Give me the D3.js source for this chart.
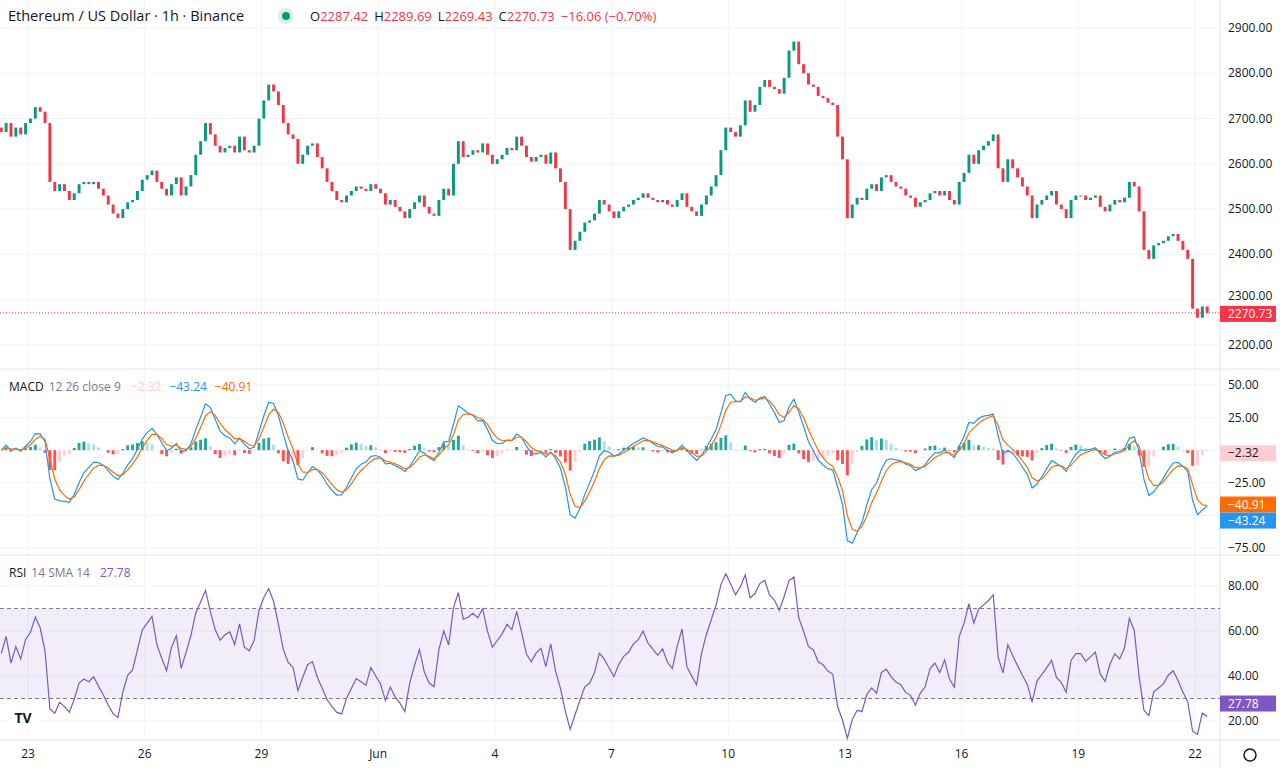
<!DOCTYPE html>
<html>
<head>
<meta charset="utf-8">
<script src="https://cdn.jsdelivr.net/npm/d3@7"></script>
<style>
  body { margin: 0; background: #fff; font-family: "Open Sans", "Noto Sans", sans-serif; }
  svg text { fill: #131722; }
</style>
</head>
<body>
<svg id="chart" width="1280" height="768"></svg>
<script>
// 3h closes, first bar starts May 22 06:00
var barHours = 3;
var firstHour = 6; // hours after May 22 00:00
var closes = [
  2670, 2690, 2660, 2680, 2665, 2690,
  2700, 2725, 2715, 2690, 2560, 2540, 2555, 2540,
  2520, 2535, 2555, 2560, 2555, 2560, 2545, 2530,
  2510, 2490, 2480, 2500, 2515, 2520, 2540, 2565,
  2575, 2585, 2560, 2545, 2530, 2555, 2570, 2530,
  2550, 2575, 2620, 2650, 2690, 2665, 2640, 2625,
  2635, 2640, 2625, 2660, 2630, 2625, 2640, 2700,
  2740, 2775, 2760, 2730, 2690, 2665, 2655, 2600,
  2620, 2640, 2645, 2615, 2590, 2560, 2540, 2520,
  2515, 2530, 2540, 2550, 2545, 2540, 2555, 2545,
  2535, 2510, 2520, 2505, 2495, 2480, 2500, 2515,
  2530, 2505, 2490, 2485, 2520, 2545, 2530, 2600,
  2650, 2615, 2620, 2630, 2625, 2645, 2620, 2600,
  2610, 2620, 2635, 2630, 2660, 2640, 2615, 2605,
  2615, 2620, 2600, 2625, 2590, 2560, 2500, 2410,
  2430, 2450, 2470, 2475, 2490, 2520, 2510, 2495,
  2480, 2495, 2505, 2510, 2520, 2525, 2535, 2525,
  2520, 2515, 2520, 2510, 2505, 2520, 2535, 2505,
  2495, 2485, 2510, 2530, 2550, 2575, 2630, 2680,
  2670, 2660, 2685, 2740, 2715, 2730, 2770, 2785,
  2770, 2765, 2755, 2790, 2850, 2870, 2820, 2800,
  2775, 2770, 2750, 2745, 2735, 2730, 2660, 2610,
  2480, 2510, 2525, 2520, 2545, 2555, 2540, 2570,
  2575, 2560, 2550, 2545, 2530, 2525, 2505, 2515,
  2520, 2535, 2540, 2530, 2540, 2520, 2510, 2560,
  2580, 2620, 2600, 2630, 2640, 2650, 2665, 2590,
  2560, 2610, 2590, 2570, 2550, 2530, 2480, 2510,
  2520, 2530, 2540, 2510, 2500, 2480, 2520, 2530,
  2530, 2520, 2525, 2530, 2505, 2495, 2510, 2520,
  2515, 2525, 2560, 2550, 2495, 2410, 2390, 2420,
  2425, 2430, 2440, 2445, 2430, 2410, 2390, 2280,
  2260, 2285, 2270.73
];
var priceTicks = [2200, 2300, 2400, 2500, 2600, 2700, 2800, 2900];
var macdTicks = [50, 25, -25, -75];
var rsiTicks = [80, 60, 40, 20];
var dayLabels = ["23", "26", "29", "Jun", "4", "7", "10", "13", "16", "19", "22"];
var dayOffsets = [1, 4, 7, 10, 13, 16, 19, 22, 25, 28, 31]; // days after May 22
var legendOHLC = ["2287.42", "2289.69", "2269.43", "2270.73", "\u221216.06 (\u22120.70%)"];
var legendMacd = ["\u22122.32", "\u221243.24", "\u221240.91"];
var legendRsi = "27.78";

var UP = "#089981", DOWN = "#f23645";
var svg = d3.select("#chart");
var W = 1220;

// time in hours after May 22 00:00
var x = d3.scaleLinear().domain([6.72, 759.4]).range([0, W]);
var yP = d3.scaleLinear().domain([2149, 2961.8]).range([368, 0]);
var yM = d3.scaleLinear().domain([-80.4, 61.5]).range([555, 370]);
var yR = d3.scaleLinear().domain([13.8, 93.3]).range([735, 556]);

var bars = closes.map(function (c, i) {
  return { t: firstHour + i * barHours + barHours / 2, o: i ? closes[i - 1] : 2680, c: c };
});

// indicators, periods given in hours and converted to bars
function ema(vals, hours) {
  var a = 2 / (hours / barHours + 1), out = [], prev = vals[0];
  vals.forEach(function (v) { prev = prev + a * (v - prev); out.push(prev); });
  return out;
}
var fast = ema(closes, 12), slow = ema(closes, 26);
var macd = fast.map(function (f, i) { return f - slow[i]; });
var signal = ema(macd, 9);
var hist = macd.map(function (m, i) { return m - signal[i]; });

// Wilder RSI; smoothing kept a bit longer than 14h so the 3h bars are not over-swung
var rsi = [], ag = 8, al = 8, k = 1 / 8;
closes.forEach(function (c, i) {
  if (i > 0) {
    var d = c - closes[i - 1];
    ag = ag + k * (Math.max(d, 0) - ag);
    al = al + k * (Math.max(-d, 0) - al);
  }
  rsi.push(al === 0 ? 100 : 100 - 100 / (1 + ag / al));
});

// grid
var grid = svg.append("g").attr("stroke", "#f0f3fa");
dayOffsets.forEach(function (d) {
  grid.append("line").attr("x1", x(d * 24)).attr("x2", x(d * 24)).attr("y1", 0).attr("y2", 740);
});
priceTicks.forEach(function (p) {
  grid.append("line").attr("x1", 0).attr("x2", W).attr("y1", yP(p)).attr("y2", yP(p));
});
[50, 25, 0, -25, -50, -75].forEach(function (p) {
  grid.append("line").attr("x1", 0).attr("x2", W).attr("y1", yM(p)).attr("y2", yM(p));
});
rsiTicks.forEach(function (p) {
  grid.append("line").attr("x1", 0).attr("x2", W).attr("y1", yR(p)).attr("y2", yR(p));
});

// pane separators
[369, 555, 740].forEach(function (y) {
  svg.append("line").attr("x1", 0).attr("x2", 1280).attr("y1", y).attr("y2", y).attr("stroke", "#e0e3eb");
});
svg.append("line").attr("x1", W).attr("x2", W).attr("y1", 0).attr("y2", 768).attr("stroke", "#e0e3eb");

// candles
var bw = x(barHours) - x(0);
svg.append("g").selectAll("rect").data(bars).join("rect")
  .attr("x", function (d) { return x(d.t) - bw * 0.3; })
  .attr("width", bw * 0.6)
  .attr("y", function (d) { return yP(Math.max(d.o, d.c)); })
  .attr("height", function (d) { return Math.max(1, Math.abs(yP(d.o) - yP(d.c))); })
  .attr("fill", function (d) { return d.c >= d.o ? UP : DOWN; });

// last price line
var last = closes[closes.length - 1];
svg.append("line").attr("x1", 0).attr("x2", W).attr("y1", yP(last)).attr("y2", yP(last))
  .attr("stroke", DOWN).attr("stroke-dasharray", "1,2");

// MACD histogram
svg.append("g").selectAll("rect").data(hist).join("rect")
  .attr("x", function (d, i) { return x(bars[i].t) - bw * 0.3; })
  .attr("width", bw * 0.6)
  .attr("y", function (d) { return Math.min(yM(d), yM(0)); })
  .attr("height", function (d) { return Math.abs(yM(d) - yM(0)); })
  .attr("fill", function (d, i) {
    var p = i ? hist[i - 1] : d;
    if (d >= 0) return d >= p ? "#26a69a" : "#b2dfdb";
    return d < p ? "#ff5252" : "#ffcdd2";
  });

var lineM = d3.line().x(function (d, i) { return x(bars[i].t); }).y(function (d) { return yM(d); });
svg.append("path").datum(macd).attr("d", lineM).attr("fill", "none").attr("stroke", "#2196f3").attr("stroke-width", 1.2);
svg.append("path").datum(signal).attr("d", lineM).attr("fill", "none").attr("stroke", "#ff6d00").attr("stroke-width", 1.2);

// RSI
svg.append("rect").attr("x", 0).attr("width", W).attr("y", yR(70)).attr("height", yR(30) - yR(70))
  .attr("fill", "#7e57c2").attr("fill-opacity", 0.1);
[70, 30].forEach(function (v) {
  svg.append("line").attr("x1", 0).attr("x2", W).attr("y1", yR(v)).attr("y2", yR(v))
    .attr("stroke", "#787b86").attr("stroke-dasharray", "4,3");
});
var lineR = d3.line().x(function (d, i) { return x(bars[i].t); }).y(function (d) { return yR(d); });
svg.append("path").datum(rsi).attr("d", lineR).attr("fill", "none").attr("stroke", "#7e57c2").attr("stroke-width", 1.2);

// right axis labels
function axisLabels(ticks, scale, fmt) {
  ticks.forEach(function (t) {
    svg.append("text").attr("x", 1228).attr("y", scale(t) + 4).attr("font-size", 12).text(fmt(t));
  });
}
axisLabels(priceTicks.filter(function (p) { return p !== 2300; }), yP, d3.format(".2f"));
svg.append("text").attr("x", 1228).attr("y", yP(2300)).attr("font-size", 12).text("2300.00");
axisLabels(macdTicks, yM, function (v) { return d3.format(".2f")(v).replace("-", "\u2212"); });
axisLabels(rsiTicks, yR, d3.format(".2f"));

function tag(y, txt, bg, fg) {
  svg.append("rect").attr("x", W).attr("y", y - 8).attr("width", 56).attr("height", 16).attr("fill", bg);
  svg.append("text").attr("x", 1228).attr("y", y + 4).attr("font-size", 12).style("fill", fg).text(txt);
}
tag(yP(last) + 1, d3.format(".2f")(last), DOWN, "#fff");
tag(yM(-2.32), legendMacd[0], "#ffcdd2", "#131722");
tag(yM(-40.91) + 1, legendMacd[2], "#ff6d00", "#fff");
tag(yM(-43.24) + 14, legendMacd[1], "#2196f3", "#fff");
tag(yR(27.78), legendRsi, "#7e57c2", "#fff");

// time axis
dayOffsets.forEach(function (d, i) {
  svg.append("text").attr("x", x(d * 24)).attr("y", 758).attr("text-anchor", "middle")
    .attr("font-size", 12).text(dayLabels[i]);
});

// legends
var hdr = svg.append("text").attr("x", 8).attr("y", 21).attr("font-size", 14.5);
hdr.append("tspan").text("Ethereum / US Dollar \u00b7 1h \u00b7 Binance");
svg.append("circle").attr("cx", 286).attr("cy", 16).attr("r", 8).attr("fill", "#089981").attr("fill-opacity", 0.15);
svg.append("circle").attr("cx", 286).attr("cy", 16).attr("r", 4).attr("fill", "#089981");
var ohlc = svg.append("text").attr("x", 310).attr("y", 21).attr("font-size", 13);
["O", "H", "L", "C"].forEach(function (l, i) {
  ohlc.append("tspan").attr("dx", i ? 6 : 0).text(l);
  ohlc.append("tspan").style("fill", DOWN).text(legendOHLC[i]);
});
ohlc.append("tspan").attr("dx", 6).style("fill", DOWN).text(legendOHLC[4]);

var ml = svg.append("text").attr("x", 9).attr("y", 391).attr("font-size", 12);
ml.append("tspan").text("MACD");
ml.append("tspan").attr("dx", 5).style("fill", "#787b86").text("12 26 close 9");
ml.append("tspan").attr("dx", 10).style("fill", "#ffcdd2").text(legendMacd[0]);
ml.append("tspan").attr("dx", 8).style("fill", "#2196f3").text(legendMacd[1]);
ml.append("tspan").attr("dx", 8).style("fill", "#ff6d00").text(legendMacd[2]);

var rl = svg.append("text").attr("x", 9).attr("y", 577).attr("font-size", 12);
rl.append("tspan").text("RSI");
rl.append("tspan").attr("dx", 5).style("fill", "#787b86").text("14 SMA 14");
rl.append("tspan").attr("dx", 10).style("fill", "#7e57c2").text(legendRsi);

// logo + gear
svg.append("circle").attr("cx", 23).attr("cy", 718).attr("r", 15).attr("fill", "#fff");
svg.append("text").attr("x", 23).attr("y", 723).attr("text-anchor", "middle").attr("font-size", 14)
  .attr("font-weight", "bold").text("TV");
svg.append("circle").attr("cx", 1250).attr("cy", 755).attr("r", 6).attr("fill", "none").attr("stroke", "#131722").attr("stroke-width", 1.5);
</script>
</body>
</html>
